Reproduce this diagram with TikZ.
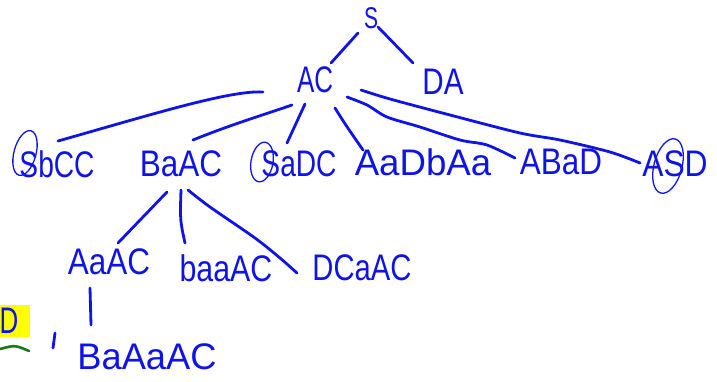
\documentclass[tikz,border=0pt]{standalone}
\usepackage{fontspec}
\usepackage{graphicx}
\setmainfont{Liberation Sans}
\definecolor{ink}{RGB}{15,20,230}
\definecolor{hl}{RGB}{255,255,0}
\definecolor{gr}{RGB}{20,120,30}
\tikzset{
  lbl/.style={inner sep=0pt, text=ink, font=\fontsize{37}{37}\selectfont},
  pen/.style={draw=ink, line width=2.8pt, line cap=round, line join=round},
  loop/.style={draw=ink, line width=1.3pt},
}
\newcommand\sx[2]{\scalebox{#1}[1]{#2}}
\begin{document}
\begin{tikzpicture}[x=1pt,y=-1pt]
\useasboundingbox (0,0) rectangle (717,381);
% labels
\node[lbl, font=\fontsize{30}{30}\selectfont] (S) at (371,18) {\sx{0.7}{S}};
\node[lbl] (AC) at (315,80) {\sx{0.70}{AC}};
\node[lbl] (DA) at (443,82) {\sx{0.80}{DA}};
\node[lbl] (SbCC) at (57,164) {\sx{0.76}{SbCC}};
\node[lbl] (BaAC) at (181,164) {\sx{0.85}{BaAC}};
\node[lbl] (SaDC) at (299,164) {\sx{0.76}{SaDC}};
\node[lbl] (AaDbAa) at (423,162) {\sx{0.99}{AaDbAa}};
\node[lbl] (ABaD) at (561,162) {\sx{0.85}{ABaD}};
\node[lbl] (ASD) at (675,164) {\sx{0.86}{ASD}};
\node[lbl] (AaAC) at (109,262) {\sx{0.85}{AaAC}};
\node[lbl] (baaAC) at (226,268) {\sx{0.82}{baaAC}};
\node[lbl] (DCaAC) at (362,268) {\sx{0.79}{DCaAC}};
\node[lbl] (BaAaAC) at (147,357) {\sx{0.98}{BaAaAC}};
% highlighted D
\fill[hl] (0,305) rectangle (30,337);
\node[lbl] (Dh) at (9,321) {\sx{0.7}{D}};
\draw[gr, line width=2.6pt, line cap=round] (0,349) .. controls (15,345) .. (29,351);
% circles
\draw[loop, rotate around={-15:(25,153)}] (25,153) ellipse (11pt and 23pt);
\draw[loop, rotate around={-10:(262,162)}] (262,162) ellipse (11pt and 20pt);
\draw[loop, rotate around={-15:(668,166)}] (668,166) ellipse (14pt and 28pt);
% connector end points
\coordinate (s1) at (358,33); \coordinate (a1) at (331,63);
\coordinate (s2) at (378,27); \coordinate (d1) at (413,63);
\coordinate (e1) at (263,92); \coordinate (e1b) at (58,141);
\coordinate (e2) at (292,105); \coordinate (e2b) at (193,140);
\coordinate (e3) at (305,104); \coordinate (e3b) at (287,143);
\coordinate (e4) at (335,108); \coordinate (e4b) at (363,150);
\coordinate (e5) at (347,97); \coordinate (e5b) at (515,158);
\coordinate (e6) at (361,90); \coordinate (e6b) at (640,163);
\coordinate (f1) at (167,192); \coordinate (f1b) at (118,243);
\coordinate (f2) at (181,190); \coordinate (f2b) at (185,243);
\coordinate (f3) at (188,190); \coordinate (f3b) at (297,273);
\coordinate (g1) at (90,288); \coordinate (g1b) at (91,325);
\coordinate (t1) at (55,333); \coordinate (t1b) at (53,348);
% connectors
\draw[pen] (s1) -- (a1);
\draw[pen] (s2) -- (d1);
\draw[pen] (e1b) .. controls (150,115) and (230,90) .. (e1);
\draw[pen] (e2b) .. controls (230,125) and (260,116) .. (e2);
\draw[pen] (e3) -- (e3b);
\draw[pen] (e4) .. controls (345,124) .. (e4b);
\draw[pen] plot[smooth] coordinates {(e5) (367,105) (387,117) (420,127) (460,140) (487,145) (e5b)};
\draw[pen] plot[smooth] coordinates {(e6) (390,99) (450,115) (520,133) (560,140) (610,152) (e6b)};
\draw[pen] (f1) -- (f1b);
\draw[pen] (f2) .. controls (180,220) .. (f2b);
\draw[pen] plot[smooth] coordinates {(f3) (210,207) (255,238) (280,258) (f3b)};
\draw[pen] (g1) -- (g1b);
\draw[pen] (t1) -- (t1b);
\end{tikzpicture}
\end{document}
